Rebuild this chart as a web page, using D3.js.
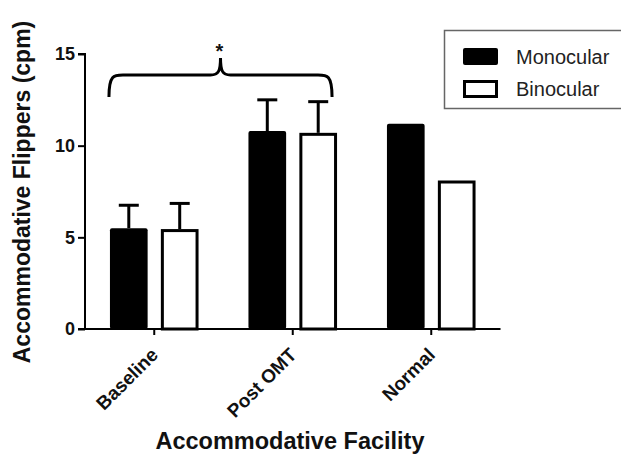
<!DOCTYPE html>
<html><head><meta charset="utf-8">
<script src="https://cdn.jsdelivr.net/npm/d3@7"></script>
<style>body{margin:0;background:#fff}svg{display:block}text{font-family:"Liberation Sans",Arial,sans-serif}</style>
</head><body>
<script>
const categories = ["Baseline", "Post OMT", "Normal"];
const seriesNames = ["Monocular", "Binocular"];
const monocular = [5.5, 10.8, 11.2];
const binocular = [5.45, 10.7, 8.1];
const monoErr = [6.75, 12.5, null];
const binoErr = [6.85, 12.4, null];
const yTicks = [0, 5, 10, 15];

const W = 621, H = 459;
const svg = d3.select("body").append("svg").attr("width", W).attr("height", H);

const x0 = d3.scaleBand().domain(categories).range([85, 500.5]).paddingInner(0).paddingOuter(0);
const x1 = d3.scaleBand().domain(seriesNames).range([0, x0.bandwidth()]).paddingInner(0.26).paddingOuter(0.49);
const y = d3.scaleLinear().domain([0, 15]).range([329, 54]);

const data = categories.map((c, i) => ({
  cat: c,
  vals: [
    {s: "Monocular", v: monocular[i], e: monoErr[i]},
    {s: "Binocular", v: binocular[i], e: binoErr[i]}
  ]
}));

// bars
const g = svg.append("g");
const groups = g.selectAll("g.grp").data(data).join("g").attr("transform", d => `translate(${x0(d.cat)},0)`);
groups.each(function(d) {
  const sel = d3.select(this);
  d.vals.forEach(b => {
    const bx = x1(b.s), bw = x1.bandwidth();
    if (b.e != null) {
      const cx = bx + bw / 2;
      sel.append("line").attr("x1", cx).attr("x2", cx).attr("y1", y(b.v)).attr("y2", y(b.e))
        .attr("stroke", "#000").attr("stroke-width", 3);
      sel.append("line").attr("x1", cx - 10).attr("x2", cx + 10).attr("y1", y(b.e)).attr("y2", y(b.e))
        .attr("stroke", "#000").attr("stroke-width", 3);
    }
    if (b.s === "Monocular") {
      sel.append("rect").attr("x", bx).attr("y", y(b.v)).attr("width", bw).attr("height", y(0) - y(b.v))
        .attr("fill", "#000").attr("rx", 2);
    } else {
      sel.append("rect").attr("x", bx + 1.5).attr("y", y(b.v) + 1.5).attr("width", bw - 3).attr("height", y(0) - y(b.v) - 1.5)
        .attr("fill", "#fff").attr("stroke", "#000").attr("stroke-width", 3);
    }
  });
});

// y axis
const yAxis = d3.axisLeft(y).tickValues(yTicks).tickSize(7).tickPadding(3);
const ya = svg.append("g").attr("transform", "translate(85,0)").call(yAxis);
ya.select(".domain").attr("stroke-width", 2).attr("d", `M-7,${y(15)}H0V${y(0)}`);
ya.selectAll(".tick line").attr("stroke-width", 2);
ya.selectAll(".tick text").attr("font-size", 18).attr("font-weight", "bold").attr("fill", "#111")
  .attr("font-family", "Liberation Sans, Arial, sans-serif");

// x axis
const xAxis = d3.axisBottom(x0).tickSize(6).tickSizeOuter(0);
const xa = svg.append("g").attr("transform", `translate(0,${y(0)})`).call(xAxis);
xa.select(".domain").attr("stroke-width", 2).attr("d", `M78,0H500.5`);
xa.selectAll(".tick line").attr("stroke-width", 2);
xa.selectAll(".tick text").attr("font-size", 19).attr("font-weight", "bold").attr("fill", "#111")
  .attr("font-family", "Liberation Sans, Arial, sans-serif")
  .attr("text-anchor", "end").attr("dy", 0)
  .attr("transform", "translate(5,27) rotate(-45)").attr("y", 0).attr("x", 0);

// axis titles
svg.append("text").attr("transform", "translate(30,192) rotate(-90)").attr("text-anchor", "middle")
  .attr("font-size", 23).attr("font-weight", "bold").attr("fill", "#111").text("Accommodative Flippers (cpm)");
svg.append("text").attr("x", 290).attr("y", 449).attr("text-anchor", "middle")
  .attr("font-size", 23.5).attr("font-weight", "bold").attr("fill", "#111").text("Accommodative Facility");

// significance brace between Baseline and Post OMT groups
const bl = x0("Baseline") + x1("Monocular") - 1;
const br = x0("Post OMT") + x1("Binocular") + x1.bandwidth() - 5;
const bm = (bl + br) / 2;
const yTop = 75, yEnd = 97, yPeak = 58;
const bracePath = `M${bl},${yEnd} C${bl},${yTop} ${bl + 5},${yTop} ${bl + 14},${yTop} L${bm - 10},${yTop} C${bm - 2},${yTop} ${bm},${yTop - 4} ${bm},${yPeak}` +
  ` C${bm},${yTop - 4} ${bm + 2},${yTop} ${bm + 10},${yTop} L${br - 14},${yTop} C${br - 5},${yTop} ${br},${yTop} ${br},${yEnd}`;
svg.append("path").attr("d", bracePath).attr("fill", "none").attr("stroke", "#000").attr("stroke-width", 3);
svg.append("text").attr("x", bm - 1).attr("y", 58).attr("text-anchor", "middle").attr("font-size", 20)
  .attr("font-weight", "bold").attr("fill", "#111").text("*");

// legend
const lg = svg.append("g");
lg.append("rect").attr("x", 444.5).attr("y", 30.5).attr("width", 190).attr("height", 78)
  .attr("fill", "#fff").attr("stroke", "#666").attr("stroke-width", 1.5);
seriesNames.forEach((s, i) => {
  const yy = 48 + i * 32;
  if (i === 0) {
    lg.append("rect").attr("x", 463).attr("y", yy).attr("width", 35).attr("height", 17).attr("fill", "#000").attr("rx", 2);
  } else {
    lg.append("rect").attr("x", 464.5).attr("y", yy + 1.5).attr("width", 32).attr("height", 15)
      .attr("fill", "#fff").attr("stroke", "#000").attr("stroke-width", 3);
  }
  lg.append("text").attr("x", 516).attr("y", yy + 16).attr("font-size", 20).attr("fill", "#222").text(s);
});
</script>
</body></html>
